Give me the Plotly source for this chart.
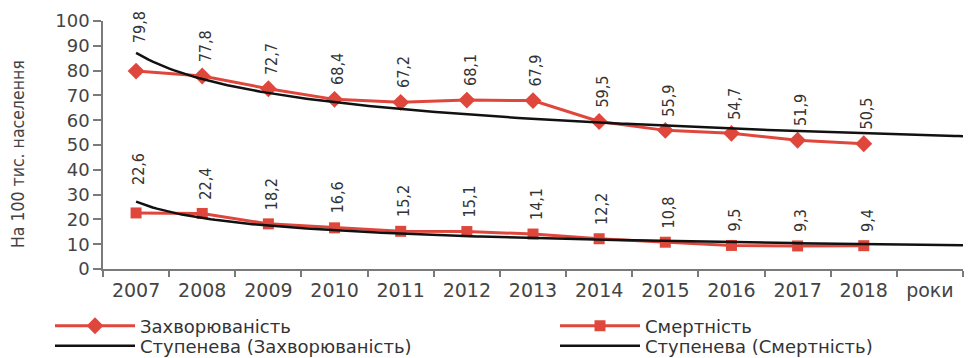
import numpy as np
import plotly.graph_objects as go

years = ["2007", "2008", "2009", "2010", "2011", "2012", "2013", "2014", "2015", "2016", "2017", "2018"]
x_extra_label = "роки"
incidence = [79.8, 77.8, 72.7, 68.4, 67.2, 68.1, 67.9, 59.5, 55.9, 54.7, 51.9, 50.5]
mortality = [22.6, 22.4, 18.2, 16.6, 15.2, 15.1, 14.1, 12.2, 10.8, 9.5, 9.3, 9.4]
y_ticks = [0, 10, 20, 30, 40, 50, 60, 70, 80, 90, 100]

names = ["Захворюваність", "Смертність", "Ступенева (Захворюваність)", "Ступенева (Смертність)"]
y_title = "На 100 тис. населення"

RED = "#e0473c"
BLACK = "#111111"
GRAY = "#7a7a7a"
NARROW = "Liberation Sans Narrow, DejaVu Sans Condensed, sans-serif"
WIDE = "DejaVu Sans, sans-serif"

n = len(years)
xs = np.arange(1, n + 1)
tick_vals = list(range(1, n + 2))
tick_text = years + [x_extra_label]


def power_fit(vals):
    b, lna = np.polyfit(np.log(xs), np.log(vals), 1)
    return np.exp(lna), b


xt = np.linspace(1, n + 1.5, 200)

fig = go.Figure()
fig.add_trace(go.Scatter(x=xs, y=incidence, mode="lines+markers", name=names[0], legend="legend",
                         line=dict(color=RED, width=3),
                         marker=dict(symbol="diamond", size=13, color=RED)))
fig.add_trace(go.Scatter(x=xs, y=mortality, mode="lines+markers", name=names[1], legend="legend2",
                         line=dict(color=RED, width=3),
                         marker=dict(symbol="square", size=11, color=RED)))
for vals, nm, lg in [(incidence, names[2], "legend3"), (mortality, names[3], "legend4")]:
    a, b = power_fit(vals)
    fig.add_trace(go.Scatter(x=xt, y=a * xt ** b, mode="lines", name=nm, legend=lg,
                             line=dict(color=BLACK, width=2.5)))

ann = []
for series in (incidence, mortality):
    for i, v in enumerate(series):
        ann.append(dict(x=xs[i], y=v, xref="x", yref="y", text=f"{v:.1f}".replace(".", ","),
                        showarrow=False, textangle=-90, yanchor="bottom", xanchor="center",
                        xshift=3, yshift=26 if i == 0 else 12,
                        font=dict(family=NARROW, size=16, color="#333333")))
ann.append(dict(x=0, y=0.5, xref="paper", yref="paper", text=y_title, showarrow=False,
                textangle=-90, xanchor="center", yanchor="middle", xshift=-85, yshift=-9,
                font=dict(family=NARROW, size=17.5, color="#444444")))


def leg(xpix, ypix):
    return dict(orientation="v", x=(xpix - 103) / 860, xanchor="left",
                y=-(ypix - 269) / 248, yanchor="middle", itemwidth=80,
                bgcolor="rgba(0,0,0,0)",
                font=dict(family=WIDE, size=18, color="#333333"), itemclick=False)


fig.update_layout(
    width=975, height=358,
    margin=dict(l=103, r=12, t=21, b=89, autoexpand=False),
    paper_bgcolor="white", plot_bgcolor="white",
    showlegend=True,
    legend=leg(50, 326),
    legend2=leg(555, 326),
    legend3=leg(50, 346),
    legend4=leg(555, 346),
    annotations=ann,
)
fig.update_xaxes(range=[0.5, n + 1.5], tickvals=tick_vals, ticktext=tick_text,
                 ticks="", showgrid=False, zeroline=False, ticklabelstandoff=3,
                 showline=True, linecolor=GRAY, linewidth=1.5,
                 minor=dict(tickvals=[k + 0.5 for k in range(0, n + 2)], ticks="outside",
                            ticklen=6, tickcolor=GRAY, tickwidth=1.5, showgrid=False),
                 tickfont=dict(family=WIDE, size=19, color="#444444"))
fig.update_yaxes(range=[0, 100], tickvals=y_ticks, ticks="outside", ticklen=8,
                 tickcolor=GRAY, tickwidth=1.5, showgrid=False, zeroline=False,
                 showline=True, linecolor=GRAY, linewidth=1.5,
                 tickfont=dict(family=WIDE, size=18, color="#444444"))

fig.write_html("out.html")
